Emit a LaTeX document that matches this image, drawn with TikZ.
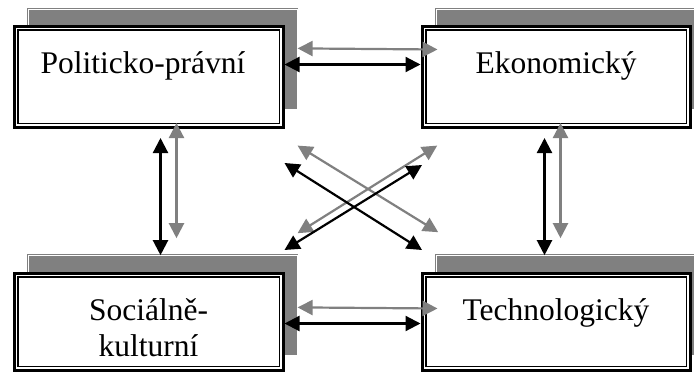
\documentclass[tikz,border=0pt]{standalone}
\usepackage{fontspec}
\setmainfont{Liberation Serif}
\usetikzlibrary{arrows.meta}
\definecolor{shade}{HTML}{808080}
\tikzset{
  % gray backing panel with a thin white inner rule
  backpanel/.style={fill=shade, draw=shade, line width=0.8pt, double=white,
    double distance=0.8pt, anchor=north west, inner sep=0pt,
    minimum width=268.6pt, minimum height=99.6pt},
  % white box with a thick outer and thin inner black frame
  frontbox/.style={draw=black, line width=3pt, fill=white, inner sep=0pt,
    anchor=north west, align=center, text height=47.5pt,
    font=\fontsize{31.5}{36}\selectfont,
    path picture={\draw[line width=1.5pt]
      ([shift={(3.75pt,-3.75pt)}]path picture bounding box.north west) rectangle
      ([shift={(-3.75pt,3.75pt)}]path picture bounding box.south east);}},
  blk/.style={draw=black, line width=2.2pt, >={Triangle[length=15pt,width=15pt]}, <->},
  gry/.style={draw=shade, line width=2.2pt, >={Triangle[length=15pt,width=15pt]}, <->}
}
\begin{document}
\begin{tikzpicture}[x=1pt, y=-1pt]
\clip (0,0) rectangle (694,372);
\fill[white] (0,0) rectangle (694,372);

% backing panels
\node[backpanel] (pps) at (28.2,9.2) {};
\node[backpanel] (eks) at (436.2,9.2) {};
\node[backpanel] (sks) at (28.2,255.2) {};
\node[backpanel] (tes) at (436.2,255.2) {};

% the four boxes
\node[frontbox, minimum width=269pt, text depth=53.5pt] (pp) at (12.5,24.5) {Politicko-právní\hspace*{11pt}};
\node[frontbox, minimum width=268pt, text depth=53.5pt] (ek) at (420.5,24.5) {Ekonomický};
\node[frontbox, minimum width=269pt, text height=83.5pt, text depth=13.5pt] (sk) at (12.5,271.5) {Sociálně-\\kulturní};
\node[frontbox, minimum width=268pt, text depth=49.5pt] (te) at (420.5,271.5) {Technologický};

% horizontal links
\draw[gry] ([yshift=11pt]pps.east) -- ([xshift=17pt,yshift=27pt]ek.west);
\draw[blk] ([yshift=12pt]pp.east) -- ([yshift=12pt]ek.west);
\draw[gry] ([yshift=-2pt]sks.east) -- ([xshift=17pt,yshift=13pt]te.west);
\draw[blk] ([yshift=-2pt]sk.east) -- ([yshift=-2pt]te.west);

% vertical links
\draw[blk] ([xshift=12pt,yshift=-9.5pt]pp.south) -- ([xshift=12pt]pp.south |- sks.north);
\draw[gry] ([xshift=28pt,yshift=5.5pt]pp.south) -- ([xshift=28pt,yshift=17pt]pp.south |- sks.north);
\draw[blk] ([xshift=-11.5pt,yshift=-9.5pt]ek.south) -- ([xshift=-11.5pt]ek.south |- tes.north);
\draw[gry] ([xshift=4.5pt,yshift=5.5pt]ek.south) -- ([xshift=4.5pt,yshift=17pt]ek.south |- tes.north);

% diagonal links
\draw[gry] ([yshift=-36pt]pps.south east) -- ([shift={(2pt,23pt)}]tes.north west);
\draw[gry] ([yshift=22pt]sks.north east) -- ([shift={(1pt,-36pt)}]eks.south west);
\draw[blk] ([yshift=-34.5pt]pp.south east) -- ([shift={(1.5pt,21.5pt)}]te.north west);
\draw[blk] ([yshift=21.5pt]sk.north east) -- ([shift={(1.5pt,-36.5pt)}]ek.south west);
\end{tikzpicture}
\end{document}
